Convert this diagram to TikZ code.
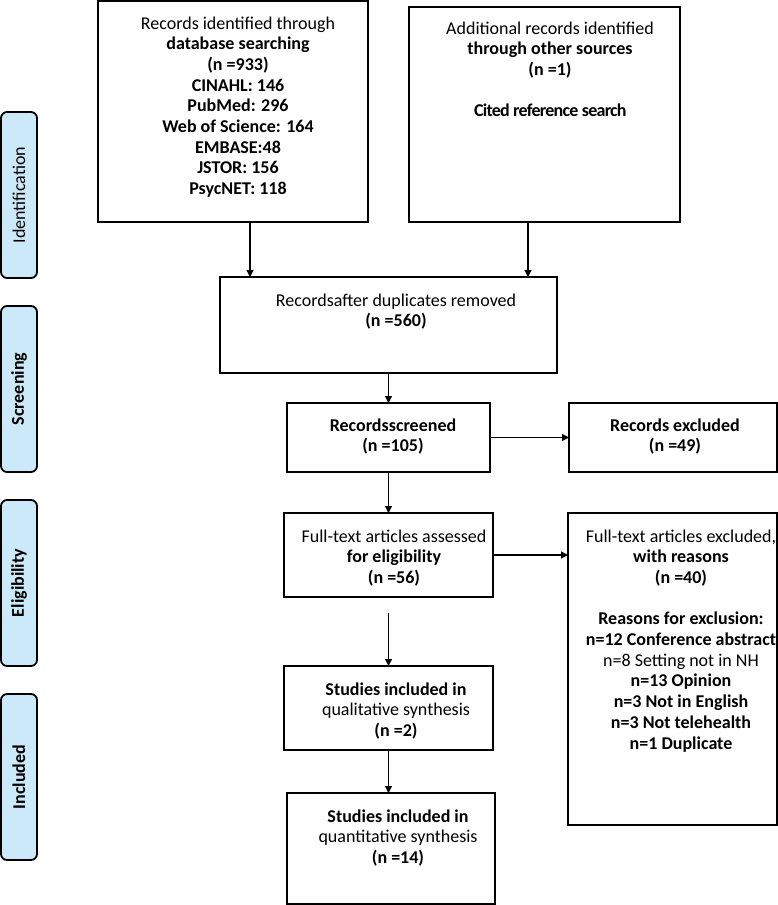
\documentclass[tikz,border=0pt]{standalone}
\usepackage{fontspec}
\setmainfont{Carlito}
\usetikzlibrary{arrows.meta}
\definecolor{sideblue}{RGB}{204,233,250}
\begin{document}
\begin{tikzpicture}[x=1pt,y=-1pt,
  box/.style={draw,line width=1.8pt,inner sep=0pt,outer sep=0pt},
  side/.style={draw,line width=1.8pt,fill=sideblue,rounded corners=6pt,minimum width=166pt,minimum height=36pt,inner sep=0pt,rotate=90,font=\fontsize{18}{20}\selectfont},
  txt/.style={anchor=base,inner sep=0pt,font=\fontsize{18}{20.7}\selectfont},
  arr/.style={line width=1.2pt,-{Triangle[length=7pt,width=7pt]}}]
\useasboundingbox (0,0) rectangle (778,905);
% side labels
\node[side] (s1) at (19,195) {Identification};
\node[side] (s2) at (19,389) {\textbf{Screening}};
\node[side] (s3) at (19,583) {\textbf{Eligibility}};
\node[side] (s4) at (19,777) {\textbf{Included}};
% boxes
\node[box,minimum width=270pt,minimum height=221pt] (b1) at (233,111.5) {};
\node[box,minimum width=271pt,minimum height=215pt] (b2) at (544.5,114.5) {};
\node[box,minimum width=337pt,minimum height=96pt] (b3) at (388.5,325) {};
\node[box,minimum width=203pt,minimum height=69pt] (b4) at (388.5,437.5) {};
\node[box,minimum width=208pt,minimum height=69pt] (b5) at (673,437.5) {};
\node[box,minimum width=209pt,minimum height=84pt] (b6) at (388.5,555) {};
\node[box,minimum width=209pt,minimum height=312pt] (b7) at (672.5,669) {};
\node[box,minimum width=209pt,minimum height=84pt] (b8) at (388.5,708) {};
\node[box,minimum width=208pt,minimum height=111pt] (b9) at (391,848.5) {};
% texts
\node[txt] (t1) at (238,29) {\begin{tabular}[t]{@{}c@{}}Records identified through\\ \textbf{database searching}\\ \textbf{(n =933)}\\ \textbf{CINAHL: 146}\\ \textbf{PubMed: 296}\\ \textbf{Web of Science: 164}\\ \textbf{EMBASE:48}\\ \textbf{JSTOR: 156}\\ \textbf{PsycNET: 118}\end{tabular}};
\node[txt] (t2) at (550,34) {\begin{tabular}[t]{@{}c@{}}Additional records identified\\ \textbf{through other sources}\\ \textbf{(n =1)}\\ \\ {\addfontfeatures{LetterSpace=-4}\textbf{Cited reference search}}\end{tabular}};
\node[txt] (t3) at (396,306) {\begin{tabular}[t]{@{}c@{}}Recordsafter duplicates removed\\ \textbf{(n =560)}\end{tabular}};
\node[txt] (t4) at (393,431) {\begin{tabular}[t]{@{}c@{}}\textbf{Recordsscreened}\\ \textbf{(n =105)}\end{tabular}};
\node[txt] (t5) at (675,431) {\begin{tabular}[t]{@{}c@{}}\textbf{Records excluded}\\ \textbf{(n =49)}\end{tabular}};
\node[txt] (t6) at (394,542) {\begin{tabular}[t]{@{}c@{}}Full-text articles assessed\\ \textbf{for eligibility}\\ \textbf{(n =56)}\end{tabular}};
\node[txt] (t7) at (681,542) {\begin{tabular}[t]{@{}c@{}}Full-text articles excluded,\\ \textbf{with reasons}\\ \textbf{(n =40)}\\ \\ \textbf{Reasons for exclusion:}\\ \textbf{n=12 Conference abstract}\\ n=8 Setting not in NH\\ \textbf{n=13 Opinion}\\ \textbf{n=3 Not in English}\\ \textbf{n=3 Not telehealth}\\ \textbf{n=1 Duplicate}\end{tabular}};
\node[txt] (t8) at (396,695) {\begin{tabular}[t]{@{}c@{}}\textbf{Studies included in}\\ qualitative synthesis\\ \textbf{(n =2)}\end{tabular}};
\node[txt] (t9) at (398,822) {\begin{tabular}[t]{@{}c@{}}\textbf{Studies included in}\\ quantitative synthesis\\ \textbf{(n =14)}\end{tabular}};
% arrows
\coordinate (a1) at ([xshift=17pt]b1.south);
\coordinate (a2) at ([xshift=-16.5pt]b2.south);
\coordinate (a3) at ([yshift=-16pt]b6.south);
\draw[arr] (a1) -- (a1 |- b3.north);
\draw[arr] (a2) -- (a2 |- b3.north);
\draw[arr] (b3.south) -- (b3.south |- b4.north);
\draw[arr] (b4.east) -- (b5.west);
\draw[arr] (b4.south) -- (b4.south |- b6.north);
\draw[arr] (b6.east) -- (b6.east -| b7.west);
\draw[arr] (a3) -- (a3 |- b8.north);
\draw[arr] (b8.south) -- (b8.south |- b9.north);
\end{tikzpicture}
\end{document}
